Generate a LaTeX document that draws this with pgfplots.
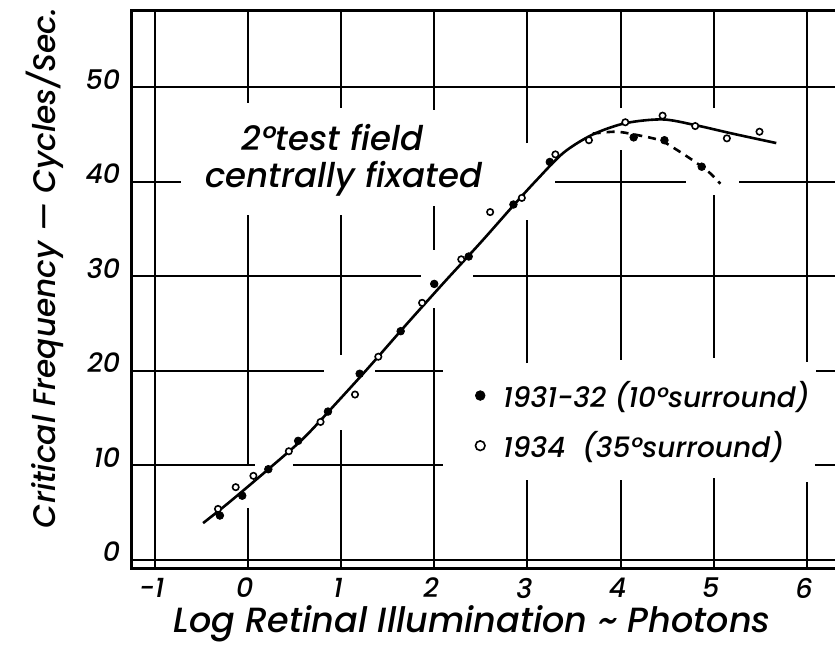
\documentclass[border=0pt]{standalone}
\usepackage{fontspec}
\setmainfont{Poppins}[ItalicFont={Poppins Medium Italic}]
\usepackage{pgfplots}
\pgfplotsset{compat=1.18}
\newcommand{\tickfont}{\itshape\fontsize{13.5pt}{15pt}\selectfont}
\newcommand{\labfont}{\itshape\fontsize{17.5pt}{20pt}\selectfont}
\newcommand{\txtfont}{\itshape\fontsize{14pt}{17pt}\selectfont}
\newcommand{\annfont}{\itshape\fontsize{17pt}{19pt}\selectfont}
\begin{document}
\begin{tikzpicture}
\path[use as bounding box] (-65.85pt,-38.5pt) rectangle (351.65pt,284pt);
\begin{axis}[
  at={(0pt,0pt)}, anchor=south west,
  scale only axis, width=351.65pt, height=278.65pt,
  xmin=-1.246, xmax=6.30, ymin=-0.85, ymax=58.1,
  clip=false,
  axis line style={draw=none},
  xtick={-1,0,1,2,3,4,5,6}, xticklabels={-1,0,1,2,3,4,5,6},
  ytick={0,10,20,30,40,50}, yticklabels={0,10,20,30,40,50},
  major tick length=0pt,
  xticklabel style={font=\tickfont, anchor=center, inner sep=0pt, yshift=-10pt, xshift=-1.5pt},
  yticklabel style={font=\tickfont, anchor=east, inner sep=0pt, xshift=-5.5pt, yshift=4pt},
  xlabel={Log Retinal Illumination \textasciitilde{} Photons},
  ylabel={Critical Frequency — Cycles/Sec.},
  xlabel style={at={(axis description cs:0.484,-0.115)}, anchor=base, font=\labfont, inner sep=0pt},
  ylabel style={at={(axis description cs:-0.109,0.538)}, anchor=base, font=\itshape\fontsize{15.6pt}{19pt}\selectfont, inner sep=0pt},
  legend style={at={(axis cs:2.438,19.40)}, anchor=north west, draw=none, fill=none,
    inner sep=0pt, row sep=6.5pt, column sep=7pt, font=\txtfont},
  legend cell align=left,
  legend image code/.code={\draw[#1] plot coordinates {(0pt,0pt)};},
  legend image post style={mark size=2.4pt},
]
% frame (right side cut off in the reference)
\draw[line width=1.5pt] (axis cs:6.30,58.1) -- (axis cs:-1.246,58.1) -- (axis cs:-1.246,-0.85) -- (axis cs:6.30,-0.85);
% grid with hand-drawn gaps
\begin{scope}[line width=1pt]
\draw (axis cs:-1,-0.85) -- (axis cs:-1,58.1);
\draw (axis cs:0,48.36) -- (axis cs:0,58.1);
\draw (axis cs:0,10.05) -- (axis cs:0,36.51);
\draw (axis cs:0,-0.85) -- (axis cs:0,5.47);
\draw (axis cs:1,47.83) -- (axis cs:1,58.1);
\draw (axis cs:1,21.69) -- (axis cs:1,36.51);
\draw (axis cs:1,-0.85) -- (axis cs:1,13.76);
\draw (axis cs:2,47.62) -- (axis cs:2,58.1);
\draw (axis cs:2,32.80) -- (axis cs:2,37.39);
\draw (axis cs:2,-0.85) -- (axis cs:2,26.63);
\draw (axis cs:3,44.10) -- (axis cs:3,58.1);
\draw (axis cs:3,20.81) -- (axis cs:3,35.98);
\draw (axis cs:3,-0.85) -- (axis cs:3,8.47);
\draw (axis cs:4,47.80) -- (axis cs:4,58.1);
\draw (axis cs:4,21.16) -- (axis cs:4,43.39);
\draw (axis cs:4,-0.85) -- (axis cs:4,8.47);
\draw (axis cs:5,47.80) -- (axis cs:5,58.1);
\draw (axis cs:5,21.38) -- (axis cs:5,38.62);
\draw (axis cs:5,-0.85) -- (axis cs:5,8.68);
\draw (axis cs:6,20.98) -- (axis cs:6,58.1);
\draw (axis cs:6,-0.85) -- (axis cs:6,8.29);
\draw (axis cs:-1.246,50) -- (axis cs:6.30,50);
\draw (axis cs:-1.246,40) -- (axis cs:-0.717,40);
\draw (axis cs:3.296,40) -- (axis cs:4.696,40);
\draw (axis cs:5.270,40) -- (axis cs:6.30,40);
\draw (axis cs:-1.246,30) -- (axis cs:1.855,30);
\draw (axis cs:2.420,30) -- (axis cs:6.30,30);
\draw (axis cs:-1.246,20) -- (axis cs:0.812,20);
\draw (axis cs:1.365,20) -- (axis cs:2.091,20);
\draw (axis cs:6.097,20) -- (axis cs:6.30,20);
\draw (axis cs:-1.246,10) -- (axis cs:0.077,10);
\draw (axis cs:0.482,10) -- (axis cs:2.094,10);
\draw (axis cs:6.085,10) -- (axis cs:6.30,10);
\draw (axis cs:-1.246,0) -- (axis cs:6.30,0);
\end{scope}
% fitted curves
\addplot[smooth, black, line width=1.3pt, forget plot] coordinates {
(-0.48,3.9) (-0.2,6.1) (0.22,9.6) (0.6,12.9) (0.95,16.6) (1.3,20.4) (1.7,24.9)
(2.1,29.3) (2.5,33.6) (2.85,37.5) (3.1,40.2) (3.39,43.1) (3.7,45.0) (4.05,46.2)
(4.45,46.6) (4.8,46.0) (5.2,45.1) (5.67,44.1)};
\addplot[smooth, black, line width=1.3pt, dash pattern=on 4pt off 3pt, forget plot] coordinates {
(3.7,45.1) (3.95,45.3) (4.15,45.0) (4.42,44.4) (4.6,43.4) (4.8,42.1) (4.95,41.0) (5.07,39.8)};
% data
\addplot[only marks, mark=*, mark size=1.9pt, black] coordinates {
(-0.30,4.7) (-0.06,6.8) (0.22,9.6) (0.54,12.6) (0.86,15.7) (1.20,19.7) (1.64,24.2)
(2.00,29.2) (2.37,32.1) (2.85,37.6) (3.24,42.1) (4.14,44.7) (4.47,44.4) (4.87,41.6)};
\addlegendentry{1931-32 (10°surround)}
\addplot[only marks, mark=*, mark size=1.6pt, black, mark options={fill=white, line width=0.8pt}] coordinates {
(-0.32,5.4) (-0.13,7.7) (0.06,8.9) (0.44,11.5) (0.78,14.6) (1.15,17.5) (1.40,21.5)
(1.87,27.2) (2.29,31.8) (2.60,36.8) (2.94,38.3) (3.30,42.9) (3.66,44.4) (4.05,46.3)
(4.45,47.0) (4.80,45.9) (5.14,44.6) (5.49,45.3)};
\addlegendentry{1934\ \ (35°surround)}
% annotation
\node[anchor=base west, inner sep=0pt, font=\annfont] at (axis cs:-0.07,43.28) {2°test field};
\node[anchor=base west, inner sep=0pt, font=\annfont] at (axis cs:-0.459,39.37) {centrally fixated};
\end{axis}
\end{tikzpicture}
\end{document}
